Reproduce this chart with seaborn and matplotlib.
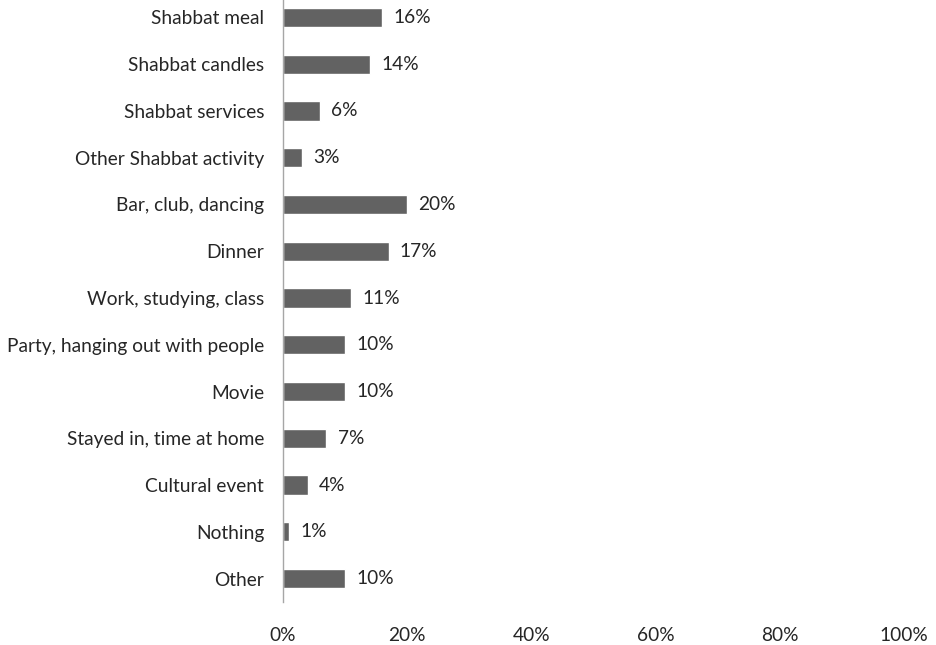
import matplotlib
matplotlib.use("Agg")
import matplotlib.pyplot as plt
import seaborn as sns
import pandas as pd

categories = ["Shabbat meal", "Shabbat candles", "Shabbat services", "Other Shabbat activity",
              "Bar, club, dancing", "Dinner", "Work, studying, class",
              "Party, hanging out with people", "Movie", "Stayed in, time at home",
              "Cultural event", "Nothing", "Other"]
values = [16, 14, 6, 3, 20, 17, 11, 10, 10, 7, 4, 1, 10]
xticks = [0, 20, 40, 60, 80, 100]
xtick_labels = ["0%", "20%", "40%", "60%", "80%", "100%"]

sns.set_theme(style="white")
plt.rcParams['font.family'] = ['Lato', 'DejaVu Sans']

df = pd.DataFrame({"cat": categories, "val": values})

fig = plt.figure(figsize=(9.37, 6.45), dpi=100)
ax = fig.add_axes([283/937, 1 - 602/645, (904 - 283)/937, 608/645])

sns.barplot(data=df, x="val", y="cat", orient="h", color="#626262", width=0.41,
            saturation=1, ax=ax)

fs = 13.8
ax.set_xlim(0, 100)
ax.set_ylim(12.5, -0.5)
ax.set_xticks(xticks)
ax.set_xticklabels(xtick_labels)
ax.set_xlabel("")
ax.set_ylabel("")
for s in ["top", "right", "bottom"]:
    ax.spines[s].set_visible(False)
ax.spines["left"].set_color("#a6a6a6")
ax.spines["left"].set_linewidth(1.0)
ax.tick_params(axis="x", length=0, pad=18, labelsize=fs, labelcolor="#262626")
ax.tick_params(axis="y", length=0, pad=13.5, labelsize=fs, labelcolor="#262626")

for i, v in enumerate(values):
    ax.text(v + 1.8, i, f"{v}%", va="center", ha="left", fontsize=fs, color="#262626")

fig.savefig("out.png", dpi=100)
